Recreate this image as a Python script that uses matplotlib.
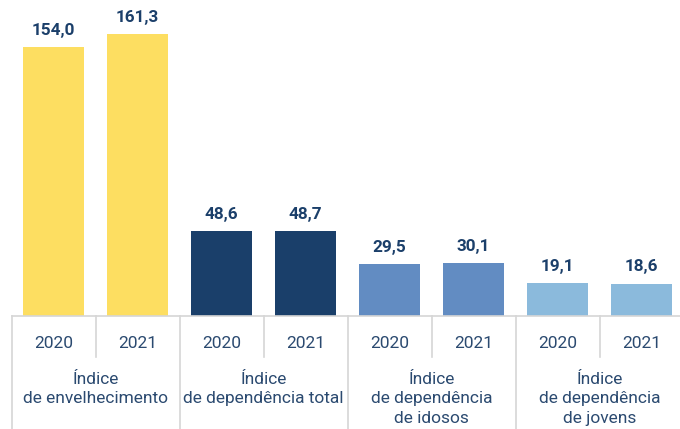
import numpy as np
import matplotlib
matplotlib.use("Agg")
import matplotlib.pyplot as plt

# Values
categories = ["Índice\nde envelhecimento",
              "Índice\nde dependência total",
              "Índice\nde dependência\nde idosos",
              "Índice\nde dependência\nde jovens"]
years = ["2020", "2021"]
values_2020 = [154.0, 48.6, 29.5, 19.1]
values_2021 = [161.3, 48.7, 30.1, 18.6]
colors = ["#FDDE61", "#1A3F6A", "#628CC2", "#8BBADC"]

text_dark = "#1B3F6A"
text_year = "#2B4A70"
grid_col = "#D6D6D6"

plt.rcParams['font.family'] = ['Roboto', 'DejaVu Sans']

W, H = 680, 429
fig = plt.figure(figsize=(W / 100, H / 100), dpi=100)
base = 316
ax = fig.add_axes([11.5 / W, (H - base) / H, 672 / W, base / H])

vals = []
cols = []
labels = []
for i in range(len(categories)):
    vals += [values_2020[i], values_2021[i]]
    cols += [colors[i], colors[i]]
    labels += years
x = np.arange(len(vals))

bars = ax.bar(x, vals, width=0.726, color=cols, zorder=2)
for xi, v in zip(x, vals):
    ax.annotate(f"{v:.1f}".replace(".", ","), (xi, v), xytext=(0, 6.5),
                textcoords="offset points", ha="center", va="bottom",
                fontsize=12.3, fontweight="bold", color=text_dark)

ax.set_xlim(-0.5, len(vals) - 0.5)
ax.set_ylim(0, base / 1.747)
ax.axis("off")

tr = ax.get_xaxis_transform()
# baseline
ax.plot([-0.5, len(vals) - 0.5], [0, 0], color=grid_col, lw=1.2,
        transform=tr, clip_on=False)
# separators
for k in range(len(vals) + 1):
    xs = k - 0.5
    if k % 2 == 0:
        ax.plot([xs, xs], [0, -0.36], color=grid_col, lw=1.2,
                transform=tr, clip_on=False)
    else:
        ax.plot([xs, xs], [0, -0.13], color=grid_col, lw=1.2,
                transform=tr, clip_on=False)

for xi, lab in zip(x, labels):
    ax.text(xi, -0.088, lab, transform=tr, ha="center", va="center",
            fontsize=12.5, color=text_year)

for i, cat in enumerate(categories):
    ax.text(2 * i + 0.5, -0.176, cat, transform=tr, ha="center", va="top",
            fontsize=12.5, color=text_year, linespacing=1.4)

fig.savefig("out.png", dpi=100)
